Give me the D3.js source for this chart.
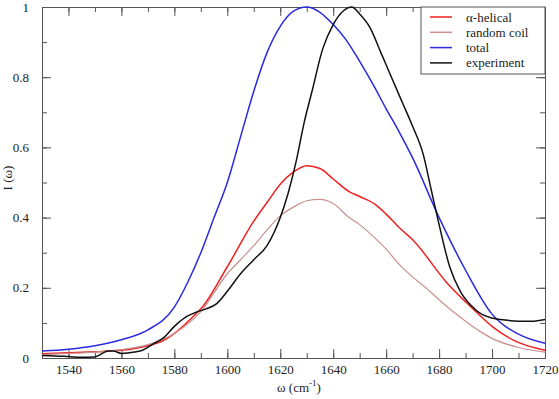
<!DOCTYPE html>
<html>
<head>
<meta charset="utf-8">
<script src="https://cdn.jsdelivr.net/npm/d3@7"></script>
<style>
  body { margin: 0; background: #fff; }
  svg, svg text { font-family: "Liberation Serif", "Times New Roman", Tinos, "DejaVu Serif", "Noto Serif", serif; }
  svg text { fill: #222; }
</style>
</head>
<body>
<svg id="chart"></svg>
<script>
// wavenumber (cm^-1) and intensity
let helicalW = [1530, 1540, 1550, 1560, 1570, 1576, 1580, 1588, 1590, 1600, 1610, 1615, 1620, 1625, 1630, 1635, 1640, 1646, 1650, 1656, 1660, 1665, 1670, 1683, 1690, 1696, 1700, 1708, 1720];
let helicalI = [0.012, 0.015, 0.018, 0.022, 0.035, 0.05, 0.07, 0.125, 0.14, 0.26, 0.39, 0.443, 0.495, 0.53, 0.548, 0.54, 0.51, 0.474, 0.46, 0.437, 0.41, 0.371, 0.337, 0.214, 0.16, 0.117, 0.09, 0.051, 0.022];

let coilW = [1530, 1540, 1550, 1560, 1570, 1580, 1590, 1600, 1605, 1610, 1615, 1620, 1625, 1630, 1635, 1640, 1646, 1650, 1656, 1660, 1665, 1670, 1675, 1683, 1690, 1695, 1700, 1710, 1720];
let coilI = [0.01, 0.013, 0.017, 0.024, 0.038, 0.07, 0.132, 0.24, 0.28, 0.32, 0.365, 0.405, 0.43, 0.448, 0.452, 0.44, 0.40, 0.38, 0.34, 0.31, 0.266, 0.231, 0.2, 0.146, 0.105, 0.078, 0.056, 0.03, 0.017];

let totalW = [1530, 1540, 1550, 1560, 1570, 1580, 1585, 1590, 1595, 1600, 1605, 1610, 1615, 1620, 1625, 1630, 1635, 1640, 1645, 1650, 1655, 1660, 1665, 1670, 1680, 1690, 1700, 1710, 1720];
let totalI = [0.02, 0.025, 0.035, 0.052, 0.08, 0.145, 0.215, 0.30, 0.40, 0.50, 0.63, 0.76, 0.87, 0.945, 0.988, 1.0, 0.985, 0.95, 0.905, 0.845, 0.78, 0.71, 0.643, 0.57, 0.40, 0.25, 0.125, 0.068, 0.042];

let exptW = [1530, 1535, 1540, 1545, 1550, 1555, 1557, 1560, 1565, 1568, 1572, 1576, 1580, 1584, 1588, 1592, 1596, 1600, 1605, 1610, 1615, 1620, 1623, 1626, 1629, 1632, 1636, 1640, 1644, 1647, 1650, 1654, 1658, 1662, 1666, 1670, 1674, 1677, 1680, 1684, 1688, 1692, 1696, 1700, 1705, 1710, 1715, 1720];
let exptI = [0.007, 0.006, 0.004, 0.002, 0.003, 0.02, 0.02, 0.013, 0.017, 0.022, 0.04, 0.058, 0.09, 0.115, 0.13, 0.14, 0.155, 0.19, 0.24, 0.28, 0.32, 0.40, 0.47, 0.56, 0.67, 0.76, 0.88, 0.95, 0.99, 1.0, 0.98, 0.94, 0.87, 0.80, 0.73, 0.66, 0.58, 0.48, 0.38, 0.26, 0.19, 0.15, 0.125, 0.114, 0.108, 0.105, 0.105, 0.11];

let seriesNames = ['α-helical', 'random coil', 'total', 'experiment'];
let seriesColors = ['#ee2020', '#c89090', '#2a2ae0', '#111111'];

let xTicks = [1540, 1560, 1580, 1600, 1620, 1640, 1660, 1680, 1700, 1720];
let yTicks = [0, 0.2, 0.4, 0.6, 0.8, 1];

function makeChart() {
	let w = 559;
	let h = 399;
	let marginT = 7;
	let marginL = 42;
	let marginR = 14;
	let marginB = 41;
	let serif = '"Liberation Serif", "Times New Roman", Tinos, "DejaVu Serif", "Noto Serif", serif';

	let svg = d3.select('#chart')
		.attr('width', w)
		.attr('height', h);

	let xScale = d3.scaleLinear()
		.domain([1530, 1720])
		.range([marginL, w - marginR]);

	let yScale = d3.scaleLinear()
		.domain([0, 1])
		.range([h - marginB, marginT]);

	let axisColor = '#555';

	// inward ticks on all four sides, minor ticks halfway
	let xMinor = d3.range(1530, 1721, 10);
	let yMinor = d3.range(0, 1.0001, 0.1);

	let bottom = svg.append('g').attr('transform', `translate(0,${h - marginB})`);
	bottom.call(d3.axisBottom(xScale).tickValues(xMinor).tickSize(-5).tickFormat(''));
	bottom.call(g => g.append('g').call(d3.axisBottom(xScale).tickValues(xTicks).tickSize(-9).tickPadding(7).tickFormat(d3.format('d'))));

	let top = svg.append('g').attr('transform', `translate(0,${marginT})`);
	top.call(d3.axisTop(xScale).tickValues(xMinor).tickSize(-5).tickFormat(''));
	top.call(g => g.append('g').call(d3.axisTop(xScale).tickValues(xTicks).tickSize(-9).tickFormat('')));

	let left = svg.append('g').attr('transform', `translate(${marginL},0)`);
	left.call(d3.axisLeft(yScale).tickValues(yMinor).tickSize(-5).tickFormat(''));
	left.call(g => g.append('g').call(d3.axisLeft(yScale).tickValues(yTicks).tickSize(-9).tickPadding(13).tickFormat(d3.format('~g'))));

	let right = svg.append('g').attr('transform', `translate(${w - marginR},0)`);
	right.call(d3.axisRight(yScale).tickValues(yMinor).tickSize(-5).tickFormat(''));
	right.call(g => g.append('g').call(d3.axisRight(yScale).tickValues(yTicks).tickSize(-9).tickFormat('')));

	svg.selectAll('g').attr('font-family', serif);
	svg.selectAll('.domain, .tick line').attr('stroke', axisColor);
	svg.selectAll('.tick text')
		.attr('font-size', 13)
		.style('font-family', serif)
		.attr('fill', '#222');

	let line = d3.line()
		.x(d => xScale(d[0]))
		.y(d => yScale(d[1]))
		.curve(d3.curveMonotoneX);

	let series = [
		d3.zip(helicalW, helicalI),
		d3.zip(coilW, coilI),
		d3.zip(totalW, totalI),
		d3.zip(exptW, exptI)
	];

	svg.append('g')
		.selectAll('path')
		.data(series)
		.enter()
		.append('path')
		.attr('d', line)
		.attr('fill', 'none')
		.attr('stroke', (d, i) => seriesColors[i])
		.attr('stroke-width', (d, i) => i == 1 ? 1.2 : 1.5);

	// legend box in the top right corner
	let lg = svg.append('g');
	lg.append('rect')
		.attr('x', 421)
		.attr('y', marginT)
		.attr('width', w - marginR - 421)
		.attr('height', 67)
		.attr('fill', '#fff')
		.attr('stroke', axisColor);

	let rows = lg.selectAll('g.row')
		.data(seriesNames)
		.enter()
		.append('g')
		.attr('class', 'row')
		.attr('transform', (d, i) => `translate(0,${17 + i * 15.3})`);
	rows.append('line')
		.attr('x1', 430).attr('x2', 452)
		.attr('stroke', (d, i) => seriesColors[i])
		.attr('stroke-width', 1.5);
	rows.append('text')
		.attr('x', 466)
		.attr('dy', '0.35em')
		.style('font-family', serif)
		.style('font-size', '13px')
		.text(d => d);

	let xl = svg.append('text')
		.attr('x', 299)
		.attr('y', 392)
		.attr('text-anchor', 'middle')
		.style('font-family', serif)
		.style('font-size', '13px');
	xl.append('tspan').text('ω (cm');
	xl.append('tspan').attr('dy', -6).attr('font-size', 9).text('-1');
	xl.append('tspan').attr('dy', 6).text(')');

	svg.append('text')
		.attr('transform', `translate(12,178) rotate(-90)`)
		.attr('text-anchor', 'middle')
		.style('font-family', serif)
		.style('font-size', '13px')
		.text('I (ω)');
}

window.onload = function () {
	makeChart();
}
</script>
</body>
</html>
